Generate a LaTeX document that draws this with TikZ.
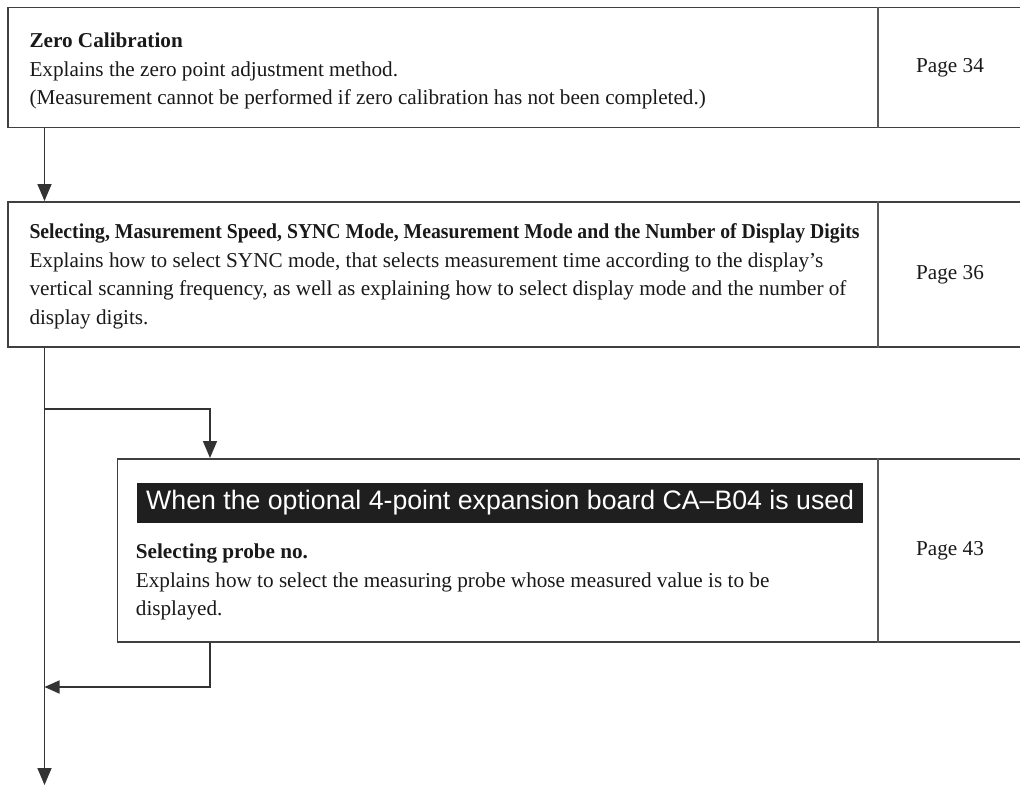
\documentclass[tikz,border=0pt]{standalone}
\usepackage{fontspec}
\usepackage{graphicx}
\setmainfont{Liberation Serif}
\newfontfamily\labelfont{Liberation Sans}
\usetikzlibrary{arrows.meta,positioning}

\tikzset{
  frame/.style={draw=black!75, line width=1.6pt, rectangle, inner sep=0pt, anchor=north west},
  divider/.style={draw=black!65, line width=1.6pt},
  txt/.style={anchor=north west, inner sep=0pt, align=left, text=black!90, font=\fontsize{21.2}{28.5}\selectfont},
  pageno/.style={text=black!90, font=\fontsize{21.2}{28.5}\selectfont},
  flow/.style={draw=black!80, line width=1.6pt, -{Triangle[length=17pt,width=14pt]}},
  optlabel/.style={fill=black!88, text=white, anchor=west, minimum height=40pt, inner xsep=9pt, inner ysep=0pt, font=\labelfont\fontsize{26.7}{30}\selectfont}
}

\begin{document}
\begin{tikzpicture}[x=1pt, y=-1pt]
\useasboundingbox (0,0) rectangle (1020,787);
\clip (0,0) rectangle (1020,787);
% fixed columns
\coordinate (trunk) at (44.5,0);
\coordinate (tap) at (210,0);
\coordinate (pagecol) at (877.7,0);
\coordinate (pagemid) at (950,0);
% step frames
\node[frame, minimum width=1030pt, minimum height=120pt] (zero) at (7,6.7) {};
\node[frame, minimum width=1030pt, minimum height=145pt] (sel) at (7,201) {};
\node[frame, minimum width=920pt, minimum height=183pt] (probe) at (116.7,458) {};
\draw[divider] (zero.north -| pagecol) -- (zero.south -| pagecol);
\draw[divider] (sel.north -| pagecol) -- (sel.south -| pagecol);
\draw[divider] (probe.north -| pagecol) -- (probe.south -| pagecol);
% step texts
\node[txt] (zerotxt) at (29.3,32.6) {\textbf{Zero Calibration}\\
  Explains the zero point adjustment method.\\
  (Measurement cannot be performed if zero calibration has not been completed.)};
\node[txt] (seltxt) at (29.3,223.6) {\scalebox{0.93}[1]{\textbf{Selecting, Masurement Speed, SYNC Mode, Measurement Mode and the Number of Display Digits}}\\
  Explains how to select SYNC mode, that selects measurement time according to the display’s\\
  vertical scanning frequency, as well as explaining how to select display mode and the number of\\
  display digits.};
\node[optlabel] (opt) at (137,502.5) {When the optional 4-point expansion board CA–B04 is used};
\node[txt] (probetxt) at (135.7,543.6) {\textbf{Selecting probe no.}\\
  Explains how to select the measuring probe whose measured value is to be\\
  displayed.};
% page references
\node[pageno] (p34) at (zero.center -| pagemid) {Page 34};
\node[pageno] (p36) at (sel.center -| pagemid) {Page 36};
\node[pageno] (p43) at (probe.center -| pagemid) {Page 43};
% flow
\coordinate (split) at (44.5,409);
\coordinate (join) at (44.5,687);
\coordinate (exit) at (44.5,785);
\draw[flow] (zero.south -| trunk) -- (sel.north -| trunk);
\draw[flow] (sel.south -| trunk) -- (exit);
\draw[flow] (split) -| (probe.north -| tap);
\draw[flow, -{Triangle[length=15pt,width=13pt]}] (probe.south -| tap) |- (join);
\end{tikzpicture}
\end{document}
